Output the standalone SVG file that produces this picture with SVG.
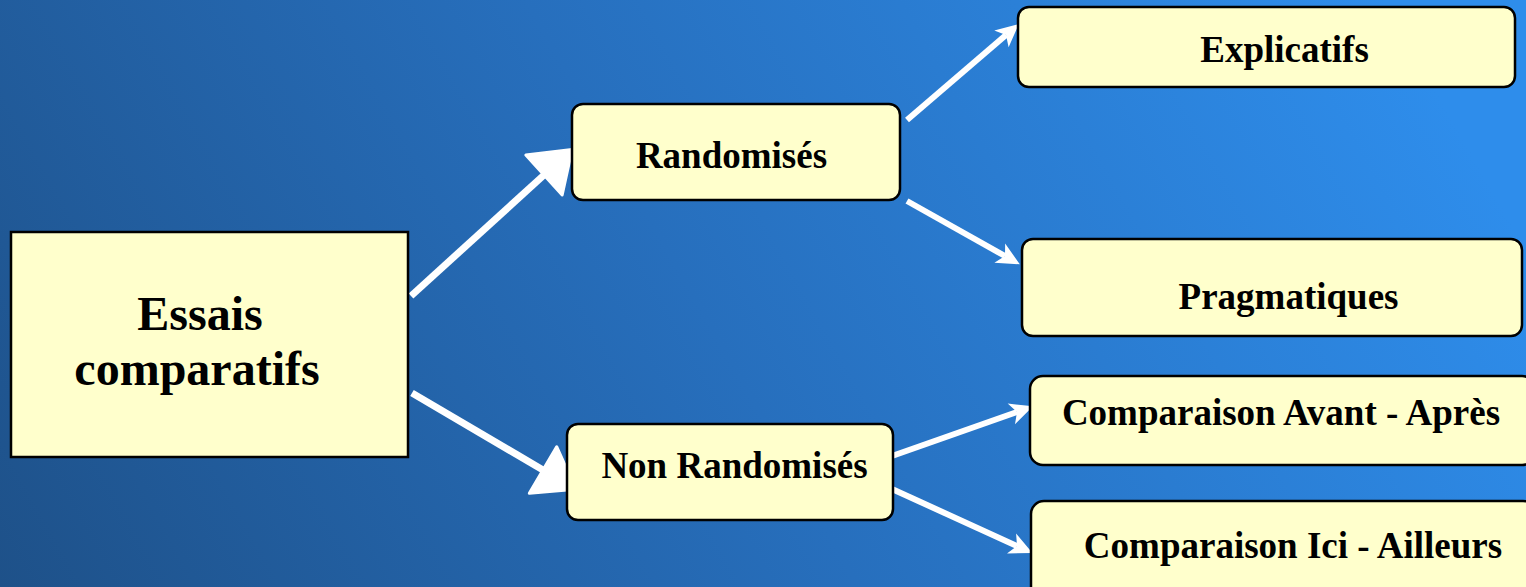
<svg xmlns="http://www.w3.org/2000/svg" width="1526" height="587" viewBox="0 0 1526 587">
<defs>
<linearGradient id="bg" gradientUnits="userSpaceOnUse" x1="0" y1="587" x2="1300" y2="-150">
<stop offset="0" stop-color="#1e5189"/>
<stop offset="0.5" stop-color="#276fbd"/>
<stop offset="1" stop-color="#2e8deb"/>
</linearGradient>
<marker id="big" markerUnits="userSpaceOnUse" markerWidth="50" markerHeight="64" viewBox="-4 -32 50 64" refX="0" refY="0" orient="auto" overflow="visible">
<path d="M0,-27 L38,0 L0,27 Z" fill="#fff" stroke="#fff" stroke-width="3" stroke-linejoin="round"/>
</marker>
<marker id="stealth" markerUnits="userSpaceOnUse" markerWidth="30" markerHeight="30" viewBox="-10 -15 30 30" refX="0" refY="0" orient="auto" overflow="visible">
<path d="M17,0 L-6,-11 L0,0 L-6,11 Z" fill="#fff"/>
</marker>
</defs>
<style>
.box{fill:#ffffcc;stroke:#000;stroke-width:2.5}
.t{font-family:"Liberation Serif","Times New Roman",serif;font-weight:bold;fill:#000;text-anchor:middle}
.conn line{stroke:#fff;fill:none}
.thick{stroke-width:7}
.thin{stroke-width:6}
</style>
<rect x="0" y="0" width="1526" height="587" fill="url(#bg)"/>
<g id="connectors" class="conn">
<line class="thick" x1="411" y1="296" x2="544" y2="175" marker-end="url(#big)"/>
<line class="thick" x1="412" y1="393" x2="543" y2="470" marker-end="url(#big)"/>
<line class="thin" x1="907" y1="120" x2="1006" y2="35" marker-end="url(#stealth)"/>
<line class="thin" x1="907" y1="201" x2="1005" y2="256" marker-end="url(#stealth)"/>
<line class="thin" x1="892" y1="456" x2="1017" y2="412" marker-end="url(#stealth)"/>
<line class="thin" x1="892" y1="489" x2="1017" y2="546" marker-end="url(#stealth)"/>
</g>
<g id="essais">
<rect class="box" x="11" y="232" width="397" height="225"/>
<text class="t" x="200" y="330" font-size="48">Essais</text>
<text class="t" x="197" y="385" font-size="48">comparatifs</text>
</g>
<g id="randomises">
<rect class="box" x="572" y="104" width="328" height="96" rx="11"/>
<text class="t" x="731.5" y="168" font-size="37">Randomisés</text>
</g>
<g id="non-randomises">
<rect class="box" x="567" y="424" width="326" height="96" rx="11"/>
<text class="t" x="734.5" y="478" font-size="37">Non Randomisés</text>
</g>
<g id="explicatifs">
<rect class="box" x="1018" y="7" width="497" height="80" rx="11"/>
<text class="t" x="1284.5" y="62" font-size="37">Explicatifs</text>
</g>
<g id="pragmatiques">
<rect class="box" x="1022" y="239" width="500" height="97" rx="11"/>
<text class="t" x="1288.5" y="309" font-size="37">Pragmatiques</text>
</g>
<g id="avant-apres">
<rect class="box" x="1030" y="376" width="505" height="89" rx="13"/>
<text class="t" x="1281" y="425" font-size="37">Comparaison Avant - Après</text>
</g>
<g id="ici-ailleurs">
<rect class="box" x="1031" y="501" width="505" height="100" rx="13"/>
<text class="t" x="1293" y="558" font-size="37">Comparaison Ici - Ailleurs</text>
</g>
</svg>
